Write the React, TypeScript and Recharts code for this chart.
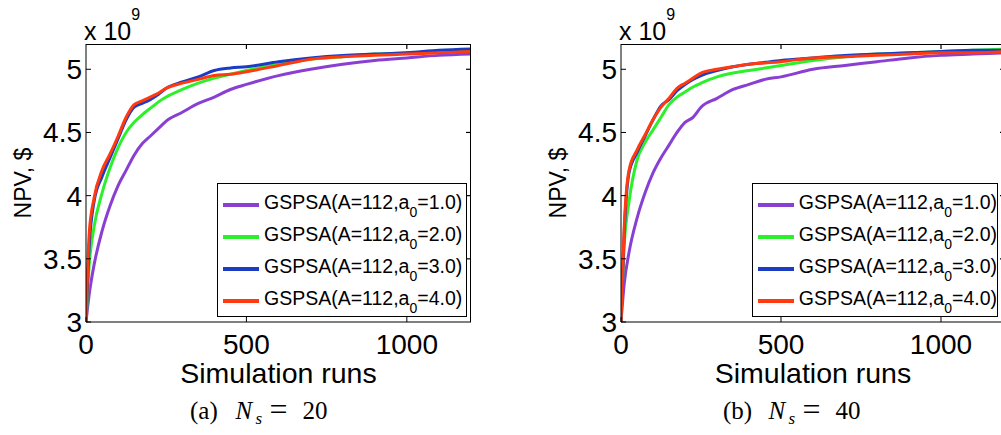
import { LineChart, Line, XAxis, YAxis, Legend } from "recharts";

const FONT = "'Liberation Sans', Arial, sans-serif";
const SERIF = "'Liberation Serif', 'Times New Roman', serif";

const runs = [0, 10, 25, 50, 75, 100, 125, 150, 175, 200, 225, 250, 300, 350, 400, 450, 500, 600, 700, 800, 900, 1000, 1100, 1200];

const a0Values = ["1.0", "2.0", "3.0", "4.0"];
const seriesColors = ["#8a3fd3", "#2cf02c", "#1c3cc4", "#ff3a10"];

// NPV in units of 1e9 $, panel (a) Ns = 20
const ns20a1 = [3.0, 3.22, 3.45, 3.72, 3.92, 4.08, 4.2, 4.32, 4.41, 4.47, 4.53, 4.59, 4.66, 4.73, 4.78, 4.84, 4.88, 4.95, 5.0, 5.04, 5.07, 5.09, 5.11, 5.12];
const ns20a2 = [3.0, 3.45, 3.75, 4.02, 4.22, 4.38, 4.5, 4.58, 4.64, 4.69, 4.74, 4.78, 4.84, 4.89, 4.93, 4.96, 4.99, 5.04, 5.08, 5.1, 5.12, 5.13, 5.14, 5.15];
const ns20a3 = [3.0, 3.6, 3.95, 4.15, 4.3, 4.45, 4.6, 4.7, 4.73, 4.76, 4.8, 4.85, 4.9, 4.94, 4.99, 5.01, 5.02, 5.06, 5.09, 5.11, 5.12, 5.13, 5.15, 5.16];
const ns20a4 = [3.0, 3.7, 3.98, 4.2, 4.33, 4.47, 4.62, 4.72, 4.75, 4.78, 4.81, 4.85, 4.89, 4.92, 4.95, 4.96, 4.98, 5.03, 5.08, 5.1, 5.11, 5.12, 5.13, 5.14];

// panel (b) Ns = 40
const ns40a1 = [3.0, 3.3, 3.55, 3.82, 4.02, 4.18, 4.3, 4.4, 4.5, 4.58, 4.62, 4.7, 4.77, 4.84, 4.88, 4.92, 4.94, 5.0, 5.03, 5.06, 5.09, 5.11, 5.12, 5.13];
const ns40a2 = [3.0, 3.6, 3.95, 4.28, 4.42, 4.52, 4.62, 4.72, 4.78, 4.82, 4.86, 4.89, 4.94, 4.97, 4.99, 5.01, 5.03, 5.07, 5.1, 5.12, 5.13, 5.14, 5.15, 5.16];
const ns40a3 = [3.0, 3.7, 4.18, 4.34, 4.47, 4.6, 4.71, 4.76, 4.83, 4.88, 4.92, 4.95, 4.99, 5.02, 5.04, 5.055, 5.07, 5.09, 5.11, 5.12, 5.13, 5.14, 5.15, 5.15];
const ns40a4 = [3.0, 3.75, 4.2, 4.36, 4.48, 4.6, 4.7, 4.77, 4.85, 4.89, 4.93, 4.97, 5.0, 5.02, 5.04, 5.05, 5.06, 5.09, 5.1, 5.11, 5.12, 5.13, 5.13, 5.14];

const xDomain = [0, 1200];
const yDomain = [3, 5.2];
const xTicks = [0, 500, 1000];
const yTicks = [3, 3.5, 4, 4.5, 5];

const toRows = (series: number[][]) =>
  runs.map((r, i) => ({ runs: r, a1: series[0][i], a2: series[1][i], a3: series[2][i], a4: series[3][i] }));

const dataNs20 = toRows([ns20a1, ns20a2, ns20a3, ns20a4]);
const dataNs40 = toRows([ns40a1, ns40a2, ns40a3, ns40a4]);

const tickStyle = { fill: "#000", fontSize: 28, fontFamily: FONT };

const PLOT_TOP = 44;
const PLOT_BOTTOM = 322;

const renderLegend = (width: number) => (props: any) => {
  const { payload } = props;
  return (
    <div
      style={{
        border: "1.3px solid #000",
        background: "#fff",
        width,
        height: 134,
        boxSizing: "border-box",
        paddingTop: 3,
        fontFamily: FONT
      }}
    >
      {payload.map((entry: any) => (
        <div key={entry.value} style={{ display: "flex", alignItems: "center", height: 32 }}>
          <svg width={46} height={32}>
            <line x1={5} x2={41} y1={18} y2={18} stroke={entry.color} strokeWidth={4} />
          </svg>
          <span style={{ fontSize: 19.5, color: "#000", whiteSpace: "nowrap", lineHeight: "20px" }}>
            GSPSA(A=112,a
            <span style={{ fontSize: 14, position: "relative", top: 8 }}>0</span>={entry.value})
          </span>
        </div>
      ))}
    </div>
  );
};

interface PanelProps {
  data: any[];
  width: number;
  plotLeft: number;
  plotRight: number;
  legendLeft: number;
  legendWidth: number;
}

function Panel({ data, width, plotLeft, plotRight, legendLeft, legendWidth }: PanelProps) {
  const margin = { top: PLOT_TOP, left: plotLeft - 60, right: width - plotRight, bottom: 435 - PLOT_BOTTOM - 60 };
  return (
    <LineChart width={width} height={435} data={data} margin={margin}>
      <XAxis
        dataKey="runs"
        type="number"
        domain={xDomain}
        ticks={xTicks}
        height={60}
        stroke="#000"
        tickSize={-5}
        tickMargin={17}
        tick={tickStyle}
        allowDataOverflow
      />
      <YAxis
        type="number"
        domain={yDomain}
        ticks={yTicks}
        width={60}
        stroke="#000"
        tickSize={-5}
        tickMargin={9}
        tick={tickStyle}
        allowDataOverflow
      />
      {a0Values.map((a0, i) => (
        <Line
          key={a0}
          type="monotone"
          dataKey={`a${i + 1}`}
          name={a0}
          stroke={seriesColors[i]}
          strokeWidth={3}
          dot={false}
          isAnimationActive={false}
        />
      ))}
      <Legend
        layout="vertical"
        align="center"
        verticalAlign="middle"
        content={renderLegend(legendWidth)}
        wrapperStyle={{ left: legendLeft, top: 183, width: legendWidth, height: 134 }}
      />
    </LineChart>
  );
}

interface AnnotationProps {
  plotLeft: number;
  plotRight: number;
  captionCenter: number;
  caption: string;
  ns: string;
}

// axes box (top/right frame with inward ticks), labels and subfigure caption
function Annotations({ plotLeft, plotRight, captionCenter, caption, ns }: AnnotationProps) {
  const c = captionCenter;
  const plotCenter = (plotLeft + plotRight) / 2;
  const sx = (v: number) => plotLeft + ((v - xDomain[0]) / (xDomain[1] - xDomain[0])) * (plotRight - plotLeft);
  const sy = (v: number) => PLOT_BOTTOM - ((v - yDomain[0]) / (yDomain[1] - yDomain[0])) * (PLOT_BOTTOM - PLOT_TOP);
  return (
    <>
      <div
        style={{
          position: "absolute",
          left: plotLeft,
          top: PLOT_TOP,
          width: plotRight - plotLeft,
          height: PLOT_BOTTOM - PLOT_TOP,
          borderTop: "1px solid #000",
          borderRight: "1px solid #000",
          boxSizing: "border-box",
          pointerEvents: "none"
        }}
      />
      <svg width={520} height={435} style={{ position: "absolute", left: 0, top: 0, pointerEvents: "none" }}>
        <g stroke="#000" strokeWidth={1.2}>
          {xTicks.slice(1).map((t) => (
            <line key={`t${t}`} x1={sx(t)} x2={sx(t)} y1={PLOT_TOP} y2={PLOT_TOP + 5} />
          ))}
          {yTicks.slice(1).map((t) => (
            <line key={`r${t}`} x1={plotRight - 5} x2={plotRight} y1={sy(t)} y2={sy(t)} />
          ))}
        </g>
        <text x={plotLeft - 2} y={40} fontFamily={FONT} fontSize={25} fill="#000">
          x 10
          <tspan fontSize={16} dy={-20}>9</tspan>
        </text>
        <text
          x={plotLeft - 55}
          y={183}
          transform={`rotate(-90, ${plotLeft - 55}, 183)`}
          textAnchor="middle"
          fontFamily={FONT}
          fontSize={23}
          fill="#000"
        >
          NPV, $
        </text>
        <text x={plotCenter} y={383} textAnchor="middle" fontFamily={FONT} fontSize={28.5} fill="#000">
          Simulation runs
        </text>
        <g fontFamily={SERIF} fontSize={25} fill="#000">
          <text x={c - 67.5} y={419}>{caption}</text>
          <text x={c - 22} y={419} fontStyle="italic">N</text>
          <text x={c - 2} y={424} fontStyle="italic" fontSize={17}>s</text>
          <text x={c + 21} y={420} textAnchor="middle" fontSize={32}>=</text>
          <text x={c + 45} y={419}>{ns}</text>
        </g>
      </svg>
    </>
  );
}

export default function App() {
  return (
    <div
      style={{
        position: "absolute",
        left: 0,
        top: 0,
        width: 1001,
        height: 435,
        overflow: "hidden",
        background: "#fff"
      }}
    >
      <div style={{ position: "absolute", left: 0, top: 0, width: 500, height: 435 }}>
        <Panel data={dataNs20} width={500} plotLeft={86} plotRight={471} legendLeft={217} legendWidth={250} />
        <Annotations plotLeft={86} plotRight={471} captionCenter={257.5} caption="(a)" ns="20" />
      </div>
      <div style={{ position: "absolute", left: 500, top: 0, width: 520, height: 435 }}>
        <Panel data={dataNs40} width={520} plotLeft={121} plotRight={505} legendLeft={252} legendWidth={246} />
        <Annotations plotLeft={121} plotRight={505} captionCenter={290.5} caption="(b)" ns="40" />
      </div>
    </div>
  );
}
